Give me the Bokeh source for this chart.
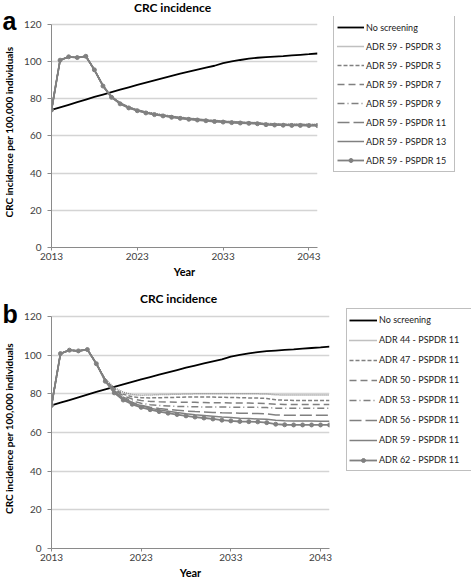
import math
from bokeh.plotting import figure
from bokeh.layouts import column, row
from bokeh.models import Range1d, Label, Legend, LegendItem, FixedTicker
from bokeh.embed import file_html
from bokeh.resources import INLINE

FONT = "Lato"
GRAY = "#808080"

years = list(range(2013, 2045))
x_ticks = [2013, 2023, 2033, 2043]
y_ticks = [0, 20, 40, 60, 80, 100, 120]

# CRC incidence per 100,000 individuals
no_screening = [74.0, 75.4, 76.8, 78.2, 79.6, 81.0, 82.3, 83.6, 84.9, 86.2,
                87.5, 88.7, 89.9, 91.1, 92.3, 93.5, 94.6, 95.7, 96.8, 97.8,
                99.2, 100.1, 100.9, 101.6, 102.1, 102.4, 102.7, 103.0, 103.4,
                103.7, 104.0, 104.4]

# common start (2013-2018) for all screening scenarios
peak = [74.0, 100.8, 102.6, 102.2, 102.9, 95.6]

# panel a: ADR 59, varying PSPDR (2019-2044)
a_pspdr3 = [87.2, 81.3, 77.9, 75.7, 74.2, 73.0, 72.1, 71.4, 70.7, 70.1, 69.6, 69.2, 68.8,
            68.4, 68.1, 67.8, 67.6, 67.4, 67.2, 66.8, 66.6, 66.5, 66.4, 66.4, 66.3, 66.3]
a_pspdr5 = [87.1, 81.2, 77.7, 75.5, 74.0, 72.8, 71.9, 71.2, 70.5, 69.9, 69.4, 69.0, 68.6,
            68.2, 67.9, 67.6, 67.4, 67.2, 67.0, 66.6, 66.4, 66.3, 66.2, 66.2, 66.1, 66.1]
a_pspdr7 = [87.0, 81.1, 77.6, 75.4, 73.9, 72.7, 71.8, 71.1, 70.4, 69.8, 69.3, 68.9, 68.5,
            68.1, 67.8, 67.5, 67.3, 67.1, 66.9, 66.4, 66.2, 66.1, 66.0, 66.0, 65.9, 65.9]
a_pspdr9 = [87.0, 81.0, 77.6, 75.4, 73.9, 72.7, 71.8, 71.0, 70.4, 69.8, 69.3, 68.8, 68.4,
            68.1, 67.8, 67.5, 67.3, 67.1, 66.9, 66.4, 66.2, 66.1, 66.0, 66.0, 65.9, 65.9]
a_pspdr11 = [87.0, 81.0, 77.5, 75.3, 73.8, 72.6, 71.7, 71.0, 70.3, 69.7, 69.2, 68.8, 68.4,
             68.0, 67.7, 67.4, 67.2, 67.0, 66.8, 66.3, 66.1, 66.0, 65.9, 65.9, 65.8, 65.8]
a_pspdr13 = [86.9, 80.9, 77.4, 75.2, 73.7, 72.5, 71.6, 70.9, 70.2, 69.6, 69.1, 68.7, 68.3,
             67.9, 67.6, 67.3, 67.1, 66.9, 66.7, 66.2, 66.0, 65.9, 65.8, 65.8, 65.7, 65.7]
a_pspdr15 = [86.9, 80.8, 77.3, 75.1, 73.6, 72.4, 71.5, 70.8, 70.1, 69.5, 69.0, 68.6, 68.2,
             67.8, 67.5, 67.2, 67.0, 66.8, 66.6, 66.1, 65.9, 65.8, 65.7, 65.7, 65.6, 65.6]

# panel b: PSPDR 11, varying ADR (2019-2044)
b_adr44 = [87.6, 83.2, 80.8, 79.6, 79.3, 79.4, 79.6, 79.7, 79.8, 79.9, 80.0, 80.0, 80.0,
           80.0, 80.0, 80.0, 80.0, 80.0, 79.9, 79.5, 79.4, 79.4, 79.4, 79.4, 79.4, 79.4]
b_adr47 = [87.3, 82.5, 79.8, 78.5, 78.0, 77.9, 78.0, 78.1, 78.2, 78.3, 78.3, 78.3, 78.3,
           78.2, 78.1, 78.0, 77.9, 77.8, 77.6, 76.9, 76.7, 76.6, 76.6, 76.6, 76.6, 76.6]
b_adr50 = [87.1, 82.0, 79.0, 77.3, 76.5, 76.1, 75.9, 75.8, 75.7, 75.6, 75.6, 75.5, 75.4,
           75.4, 75.3, 75.3, 75.2, 75.1, 75.0, 74.6, 74.5, 74.5, 74.5, 74.5, 74.5, 74.5]
b_adr53 = [86.9, 81.6, 78.3, 76.3, 75.1, 74.4, 74.0, 73.7, 73.5, 73.4, 73.3, 73.2, 73.2,
           73.2, 73.1, 73.1, 73.0, 73.0, 72.9, 72.6, 72.5, 72.5, 72.5, 72.5, 72.5, 72.5]
b_adr56 = [86.8, 81.3, 77.8, 75.5, 74.1, 73.1, 72.4, 71.9, 71.5, 71.1, 70.8, 70.6, 70.4,
           70.2, 70.1, 70.0, 69.9, 69.8, 69.7, 69.1, 68.9, 68.9, 68.9, 68.9, 68.9, 68.9]
b_adr59 = a_pspdr11
b_adr62 = [86.5, 80.5, 76.8, 74.6, 73.0, 71.8, 70.8, 70.0, 69.3, 68.6, 68.0, 67.5, 67.0,
           66.4, 66.0, 65.7, 65.6, 65.5, 65.1, 64.3, 64.0, 63.9, 63.9, 63.9, 63.9, 63.9]

labels_a = ["No screening", "ADR 59 - PSPDR 3", "ADR 59 - PSPDR 5", "ADR 59 - PSPDR 7",
            "ADR 59 - PSPDR 9", "ADR 59 - PSPDR 11", "ADR 59 - PSPDR 13", "ADR 59 - PSPDR 15"]
labels_b = ["No screening", "ADR 44 - PSPDR 11", "ADR 47 - PSPDR 11", "ADR 50 - PSPDR 11",
            "ADR 53 - PSPDR 11", "ADR 56 - PSPDR 11", "ADR 59 - PSPDR 11", "ADR 62 - PSPDR 11"]

styles = [
    dict(color="black", dash="solid", width=1.8, marker=False),
    dict(color=GRAY, dash="1 1", width=1.5, marker=False),
    dict(color=GRAY, dash="4 2", width=1.5, marker=False),
    dict(color=GRAY, dash="7 4", width=1.5, marker=False),
    dict(color=GRAY, dash="7 3 1 3", width=1.5, marker=False),
    dict(color=GRAY, dash="12 4", width=1.5, marker=False),
    dict(color=GRAY, dash="solid", width=1.5, marker=False),
    dict(color=GRAY, dash="solid", width=1.8, marker=True),
]


def draw(p, xs, ys, st):
    rs = [p.line(xs, ys, line_color=st["color"], line_width=st["width"],
                 line_dash=st["dash"])]
    if st["marker"]:
        rs.append(p.scatter(xs, ys, marker="circle", size=4,
                            fill_color=st["color"], line_color=st["color"]))
    return rs


def make_panel(letter, series, w, h, bl, br, bt, bb, ytop, title_pos, letter_pos):
    p = figure(width=w, height=h, output_backend="svg", toolbar_location=None,
               x_range=Range1d(2013, 2044), y_range=Range1d(0, ytop),
               min_border_left=bl, min_border_right=br, min_border_top=bt,
               min_border_bottom=bb)
    p.outline_line_color = None
    p.background_fill_color = "white"
    p.border_fill_color = "white"
    p.xgrid.visible = False
    p.ygrid.grid_line_color = "#d4d4d4"
    p.ygrid.grid_line_width = 1.3
    p.xaxis.ticker = FixedTicker(ticks=x_ticks)
    p.yaxis.ticker = FixedTicker(ticks=y_ticks)
    p.yaxis.bounds = (0, 120)
    for ax in (p.xaxis[0], p.yaxis[0]):
        ax.axis_line_color = "#8a8a8a"
        ax.major_tick_line_color = "#8a8a8a"
        ax.minor_tick_line_color = None
        ax.major_tick_in = 0
        ax.major_label_text_font = FONT
        ax.major_label_text_font_size = "10px"
        ax.major_label_text_color = "#404040"
        ax.major_label_text_line_height = 1.0
        ax.axis_label_text_font = FONT
        ax.axis_label_text_font_style = "bold"
        ax.axis_label_text_color = "black"
        ax.axis_label_text_line_height = 1.0
    p.yaxis.major_tick_out = 4
    p.xaxis.major_tick_out = 3
    p.yaxis.major_label_standoff = 6
    p.xaxis.major_label_standoff = 2
    p.yaxis.axis_label = "CRC incidence per 100,000 individuals"
    p.yaxis.axis_label_text_font_size = "10px"
    p.yaxis.axis_label_standoff = 6
    p.xaxis.axis_label = "Year"
    p.xaxis.axis_label_text_font_size = "11px"
    p.xaxis.axis_label_standoff = 2

    for vals, st in zip(series, styles):
        draw(p, years, vals, st)

    tx, ty = title_pos
    p.add_layout(Label(x=tx, y=ty, x_units="screen", y_units="screen", text="CRC incidence",
                       text_font=FONT, text_font_size="12px", text_font_style="bold",
                       text_align="center", text_baseline="middle", text_color="black"), "above")
    lx, ly = letter_pos
    p.add_layout(Label(x=lx, y=ly, x_units="screen", y_units="screen", text=letter,
                       text_font="Liberation Sans", text_font_size="25px",
                       text_font_style="bold", text_align="left",
                       text_baseline="alphabetic", text_color="black"), "right")
    return p


def make_legend(series, labels, w, h, loc, lab_h, pad, gw, lw):
    q = figure(width=w, height=h, output_backend="svg", toolbar_location=None,
               x_axis_type=None, y_axis_type=None, min_border=0,
               x_range=Range1d(0, 1), y_range=Range1d(0, 1))
    q.outline_line_color = None
    q.grid.visible = False
    items = []
    for vals, lab, st in zip(series, labels, styles):
        items.append(LegendItem(label=lab, renderers=draw(q, years, vals, st)))
    leg = Legend(items=items, location=loc)
    leg.border_line_color = "#7f7f7f"
    leg.border_line_width = 1
    leg.background_fill_color = "white"
    leg.background_fill_alpha = 1.0
    leg.label_text_font = FONT
    leg.label_text_font_size = "9px"
    leg.label_text_color = "#1a1a1a"
    leg.glyph_width = gw
    leg.glyph_height = 10
    leg.label_height = lab_h
    leg.label_width = lw
    leg.label_standoff = 2
    leg.spacing = 3
    leg.padding = pad
    leg.margin = 0
    q.add_layout(leg)
    return q


series_a = [no_screening] + [peak + s for s in
                             (a_pspdr3, a_pspdr5, a_pspdr7, a_pspdr9, a_pspdr11, a_pspdr13, a_pspdr15)]
series_b = [no_screening] + [peak + s for s in
                             (b_adr44, b_adr47, b_adr50, b_adr53, b_adr56, b_adr59, b_adr62)]

pa = make_panel("a", series_a, 332, 290, 47, 15, 16, 43, 124.3, (121, 9), (-315, 226.3))
la = make_legend(series_a, labels_a, 139, 290, (1, 75), 16, 3, 27, 85)
pb = make_panel("b", series_b, 345, 293, 47, 16, 18, 35, 124.14, (127, 10), (-327, 234.7))
lb = make_legend(series_b, labels_b, 126, 293, (1, 77), 17, 2, 28, 91)

layout = column(row(pa, la, spacing=0), row(pb, lb, spacing=0), spacing=0)
open("out.html", "w").write(file_html(layout, INLINE))
